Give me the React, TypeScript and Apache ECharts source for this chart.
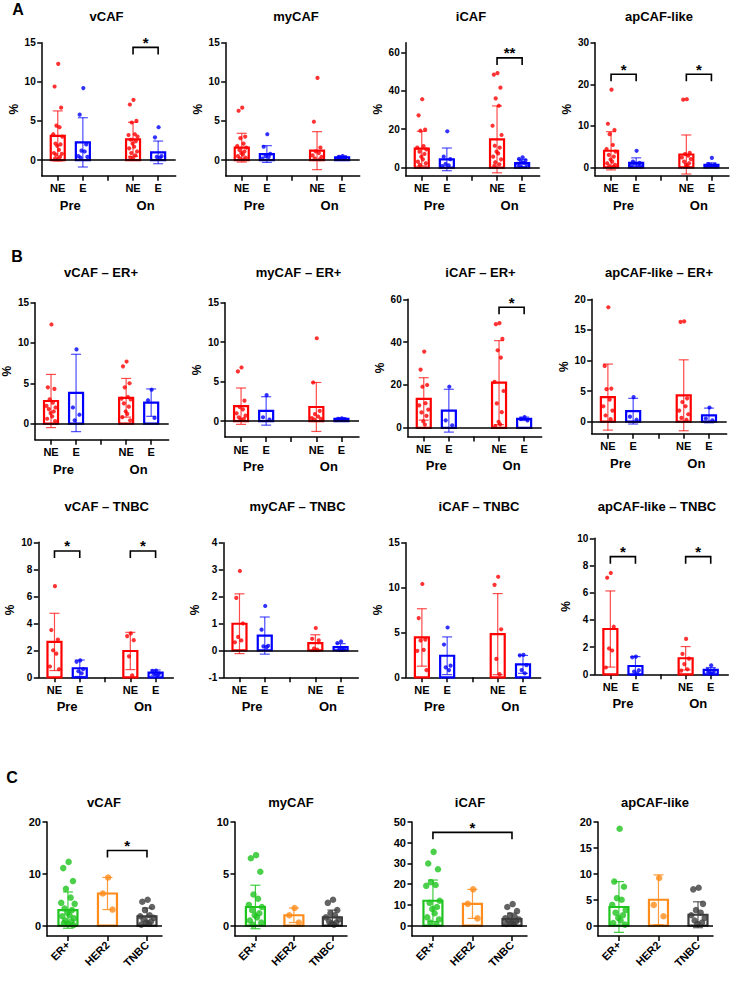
import React, { useEffect, useRef } from "react";
import * as echarts from "echarts";

const FONT = "'Liberation Sans', Arial, Helvetica, sans-serif";
const RED = "#ff0000";
const BLUE = "#0000ff";
const GREEN = "#1fc41f";
const ORANGE = "#ff8c1a";
const GRAY = "#3d3d3d";

// tick labels
const GROUP_TICK_LABELS = ["NE", "E", "", "NE", "E"];
const TIME_LABELS = ["Pre", "On"];
const SUBTYPE_LABELS = ["ER+", "HER2", "TNBC"];
const GROUP_X = [0, 1, 3, 4];
const SUBTYPE_X = [0, 1, 2];

// ---------- A (all) : groups = Pre NE, Pre E, On NE, On E ----------
const A_vCAF_mean = [3.08, 2.26, 2.65, 0.98];
const A_vCAF_sd = [3.2, 3.15, 2.18, 1.45];
const A_vCAF_pts = [
  [12.3, 9.4, 6.7, 4.4, 4.2, 3.3, 3.0, 2.1, 2.0, 1.8, 1.3, 0.9, 0.8, 0.7, 0.4, 0.2, 0.1],
  [9.2, 5.8, 2.0, 1.2, 1.1, 0.5, 0.4, 0.3],
  [7.7, 7.1, 5.0, 4.8, 3.3, 3.2, 3.0, 2.6, 2.4, 2.1, 1.7, 1.5, 1.1, 0.9, 0.6, 0.3, 0.2],
  [4.2, 2.9, 0.5, 0.4, 0.3],
];
const A_vCAF_sig = [[2, 3, 14.4, "*"]];

const A_myCAF_mean = [1.58, 0.77, 1.2, 0.34];
const A_myCAF_sd = [1.84, 1.07, 2.43, 0.16];
const A_myCAF_pts = [
  [6.7, 6.3, 3.0, 2.8, 2.1, 1.8, 1.6, 1.3, 1.1, 0.9, 0.7, 0.5, 0.3, 0.2, 0.1],
  [3.3, 1.7, 0.8, 0.5, 0.4, 0.2],
  [10.5, 4.9, 1.6, 1.1, 0.9, 0.6, 0.4, 0.2, 0.1],
  [0.5, 0.4, 0.35, 0.3, 0.25, 0.2],
];
const A_myCAF_sig: any[] = [];

const A_iCAF_mean = [9.9, 4.3, 14.7, 2.4];
const A_iCAF_sd = [9.0, 5.9, 17.4, 1.9];
const A_iCAF_pts = [
  [35.6, 27.2, 19.8, 19.2, 11.2, 10.4, 9.5, 8.3, 7.1, 5.7, 4.3, 3.1, 2.3, 1.4],
  [18.9, 5.7, 4.4, 1.9, 1.2, 0.8],
  [49.2, 48.4, 41.6, 36.0, 32.2, 21.8, 17.0, 11.4, 10.4, 8.3, 7.4, 5.7, 4.3, 2.8, 1.7, 1.0],
  [5.4, 4.5, 3.8, 3.0, 2.5, 2.0, 1.6, 1.2],
];
const A_iCAF_sig = [[2, 3, 57.1, "**"]];

const A_apCAF_mean = [4.0, 1.1, 3.1, 0.64];
const A_apCAF_sd = [4.6, 1.2, 4.7, 0.46];
const A_apCAF_pts = [
  [18.7, 10.5, 9.0, 8.0, 5.4, 4.4, 3.8, 3.0, 2.6, 1.9, 1.4, 1.0, 0.6, 0.3, 0.2],
  [4.0, 1.4, 1.1, 0.9, 0.7, 0.5, 0.3],
  [16.4, 16.3, 3.5, 3.2, 2.8, 2.4, 2.0, 1.4, 1.0, 0.6, 0.3],
  [2.3, 0.8, 0.6, 0.5, 0.4, 0.3, 0.2],
];
const A_apCAF_sig = [[0, 1, 22.4, "*"], [2, 3, 22.4, "*"]];

// ---------- B : ER+ ----------
const BER_vCAF_mean = [2.8, 3.8, 3.2, 2.6];
const BER_vCAF_sd = [3.3, 4.8, 2.4, 1.7];
const BER_vCAF_pts = [
  [12.3, 4.5, 4.3, 3.0, 2.6, 2.2, 2.0, 1.8, 1.5, 1.3, 0.9, 0.6, 0.3],
  [9.2, 2.0, 1.1, 0.4],
  [7.7, 7.1, 5.0, 4.5, 3.3, 3.1, 3.0, 2.5, 2.1, 1.5, 1.2, 0.8, 0.4],
  [4.2, 2.9, 0.7],
];
const BER_vCAF_sig: any[] = [];

const BER_myCAF_mean = [1.9, 1.3, 1.8, 0.3];
const BER_myCAF_sd = [2.3, 1.8, 3.1, 0.1];
const BER_myCAF_pts = [
  [6.8, 6.3, 2.6, 1.8, 1.5, 1.0, 0.7, 0.5, 0.3, 0.2],
  [3.3, 0.5, 0.2],
  [10.5, 4.9, 1.3, 0.9, 0.6, 0.4, 0.3, 0.2],
  [0.35, 0.3, 0.25],
];
const BER_myCAF_sig: any[] = [];

const BER_iCAF_mean = [13.5, 8.0, 21.1, 4.2];
const BER_iCAF_sd = [9.9, 10.0, 19.6, 0.8];
const BER_iCAF_pts = [
  [35.6, 27.2, 20.0, 19.2, 11.5, 10.5, 8.5, 7.2, 5.6, 3.0, 1.5],
  [19.2, 3.5, 1.2],
  [48.9, 48.4, 41.5, 36.2, 32.8, 21.5, 17.2, 11.4, 7.3, 2.8, 1.6, 0.8],
  [5.0, 4.2, 3.5],
];
const BER_iCAF_sig = [[2, 3, 56.3, "*"]];

const BER_apCAF_mean = [4.0, 1.7, 4.3, 1.0];
const BER_apCAF_sd = [5.4, 2.1, 5.8, 1.2];
const BER_apCAF_pts = [
  [18.7, 9.1, 5.4, 5.3, 3.6, 2.5, 1.8, 1.0, 0.4],
  [4.0, 0.8, 0.3],
  [16.4, 16.3, 3.8, 3.2, 2.5, 1.8, 1.2, 0.6, 0.3],
  [2.3, 0.5, 0.2],
];
const BER_apCAF_sig: any[] = [];

// ---------- B : TNBC ----------
const BTN_vCAF_mean = [2.62, 0.67, 1.95, 0.35];
const BTN_vCAF_sd = [2.12, 0.61, 1.38, 0.19];
const BTN_vCAF_pts = [
  [6.75, 3.5, 2.8, 2.0, 1.75, 0.8, 0.6],
  [1.25, 1.15, 0.6, 0.45, 0.3],
  [3.25, 3.05, 2.75, 1.55, 0.15],
  [0.5, 0.48, 0.3, 0.25, 0.15],
];
const BTN_vCAF_sig = [[0, 1, 9.36, "*"], [2, 3, 9.36, "*"]];

const BTN_myCAF_mean = [0.99, 0.55, 0.27, 0.12];
const BTN_myCAF_sd = [1.11, 0.69, 0.31, 0.13];
const BTN_myCAF_pts = [
  [2.95, 1.95, 1.0, 0.5, 0.37, 0.3],
  [1.65, 0.77, 0.17, 0.15, 0.12],
  [0.83, 0.43, 0.37, 0.07, 0.03],
  [0.33, 0.27, 0.06, 0.03, 0.02],
];
const BTN_myCAF_sig: any[] = [];

const BTN_iCAF_mean = [4.44, 2.4, 4.81, 1.44];
const BTN_iCAF_sd = [3.2, 2.1, 4.52, 1.0];
const BTN_iCAF_pts = [
  [10.4, 6.6, 4.2, 4.1, 3.05, 2.95, 0.8],
  [5.55, 3.65, 1.3, 1.1, 0.8],
  [11.2, 10.3, 5.35, 2.05, 0.35],
  [2.5, 2.45, 1.35, 0.8, 0.45],
];
const BTN_iCAF_sig: any[] = [];

const BTN_apCAF_mean = [3.33, 0.61, 1.18, 0.32];
const BTN_apCAF_sd = [2.8, 0.69, 0.86, 0.18];
const BTN_apCAF_pts = [
  [7.45, 7.1, 3.5, 1.9, 1.75, 0.5],
  [1.3, 1.25, 0.3, 0.2, 0.07],
  [2.6, 1.5, 1.15, 0.75, 0.37, 0.27],
  [0.66, 0.33, 0.3, 0.15, 0.07],
];
const BTN_apCAF_sig = [[0, 1, 8.65, "*"], [2, 3, 8.65, "*"]];

// ---------- C : ER+, HER2, TNBC ----------
const C_vCAF_mean = [3.0, 6.2, 1.8];
const C_vCAF_sd = [3.5, 3.1, 1.6];
const C_vCAF_pts = [
  [12.3, 11.1, 8.6, 7.1, 5.4, 4.4, 4.2, 3.3, 3.0, 2.5, 2.0, 1.8, 1.4, 1.0, 0.8, 0.5, 0.3, 0.1],
  [9.3, 6.2, 3.1],
  [5.0, 4.6, 3.6, 3.0, 2.0, 1.8, 1.5, 1.2, 0.8, 0.6, 0.4, 0.2],
];
const C_vCAF_sig = [[1, 2, 14.5, "*"]];

const C_myCAF_mean = [1.8, 1.0, 0.8];
const C_myCAF_sd = [2.1, 0.7, 0.7];
const C_myCAF_pts = [
  [6.8, 6.5, 5.2, 3.0, 2.6, 2.0, 1.8, 1.5, 1.2, 1.0, 0.8, 0.5, 0.3, 0.1],
  [1.7, 1.0, 0.3],
  [2.5, 2.2, 1.5, 1.2, 1.0, 0.8, 0.6, 0.4, 0.3, 0.2, 0.1],
];
const C_myCAF_sig: any[] = [];

const C_iCAF_mean = [12.0, 10.5, 3.2];
const C_iCAF_sd = [10.0, 7.0, 2.8];
const C_iCAF_pts = [
  [35.6, 30.0, 27.2, 21.0, 19.6, 19.2, 12.0, 11.0, 9.0, 8.0, 6.0, 4.0, 3.0, 1.5, 0.8],
  [17.5, 10.5, 3.5],
  [10.4, 9.0, 7.0, 5.0, 4.2, 3.5, 3.0, 2.5, 2.0, 1.5, 1.0, 0.8],
];
const C_iCAF_sig = [[0, 2, 45, "*"]];

const C_apCAF_mean = [3.6, 5.0, 2.1];
const C_apCAF_sd = [4.9, 4.8, 2.5];
const C_apCAF_pts = [
  [18.7, 8.5, 7.5, 5.3, 5.0, 4.0, 3.0, 2.5, 2.0, 1.5, 1.0, 0.5, 0.2],
  [9.2, 4.0, 1.8],
  [7.3, 7.0, 4.2, 3.0, 2.5, 2.0, 1.5, 1.0, 0.6, 0.3],
];
const C_apCAF_sig: any[] = [];

// ---------- layout (positions / sizes only) ----------
const JITTER = [0.02, -0.14, 0.15, -0.06, 0.08, -0.2, 0.2, -0.1, 0.12, -0.02, 0.05, -0.17, 0.18, -0.08, 0.1, -0.12, 0.0, 0.16, -0.04, 0.07, -0.18, 0.13, -0.09, 0.04];

type Layout = {
  left: number; top: number; width: number; height: number;
  xMin: number; xMax: number; yMin: number; yMax: number; yTicks: number[];
  zero: boolean; titleX: number; titleY: number; yName: boolean;
};

const LAY = (left: number, top: number, bottom: number, yMin: number, yMax: number, yTicks: number[], titleX: number, titleY: number, zero: boolean, width = 134, xMin = -0.64, xMax = 4.7, yName = true): Layout => ({
  left, top, width, height: bottom - top, xMin, xMax, yMin, yMax, yTicks, zero, titleX, titleY, yName,
});

const PANELS: any[] = [
  { kind: "grp", title: "vCAF", mean: A_vCAF_mean, sd: A_vCAF_sd, pts: A_vCAF_pts, sig: A_vCAF_sig, L: LAY(41.7, 42.7, 175.7, -2, 15, [0, 5, 10, 15], 106.5, 16, true) },
  { kind: "grp", title: "myCAF", mean: A_myCAF_mean, sd: A_myCAF_sd, pts: A_myCAF_pts, sig: A_myCAF_sig, L: LAY(225.7, 42.7, 175.7, -2, 15, [0, 5, 10, 15], 296, 16, true) },
  { kind: "grp", title: "iCAF", mean: A_iCAF_mean, sd: A_iCAF_sd, pts: A_iCAF_pts, sig: A_iCAF_sig, L: LAY(405.7, 42.7, 175.7, -4.2, 65, [0, 20, 40, 60], 471, 16, true) },
  { kind: "grp", title: "apCAF-like", mean: A_apCAF_mean, sd: A_apCAF_sd, pts: A_apCAF_pts, sig: A_apCAF_sig, L: LAY(595, 42.7, 175.7, -2, 30, [0, 10, 20, 30], 659, 16, true) },

  { kind: "grp", title: "vCAF \u2013 ER+", mean: BER_vCAF_mean, sd: BER_vCAF_sd, pts: BER_vCAF_pts, sig: BER_vCAF_sig, L: LAY(31.7, 302.7, 439.7, -2, 15, [0, 5, 10, 15], 101, 272, true, 137) },
  { kind: "grp", title: "myCAF \u2013 ER+", mean: BER_myCAF_mean, sd: BER_myCAF_sd, pts: BER_myCAF_pts, sig: BER_myCAF_sig, L: LAY(225, 302.7, 437, -2, 15, [0, 5, 10, 15], 298.6, 272, true, 134) },
  { kind: "grp", title: "iCAF \u2013 ER+", mean: BER_iCAF_mean, sd: BER_iCAF_sd, pts: BER_iCAF_pts, sig: BER_iCAF_sig, L: LAY(407.7, 299.3, 436.4, -4, 60, [0, 20, 40, 60], 480.5, 272, true, 134) },
  { kind: "grp", title: "apCAF-like \u2013 ER+", mean: BER_apCAF_mean, sd: BER_apCAF_sd, pts: BER_apCAF_pts, sig: BER_apCAF_sig, L: LAY(591.7, 299.3, 433.8, -2, 20, [0, 5, 10, 15, 20], 659, 272, true, 135) },

  { kind: "grp", title: "vCAF \u2013 TNBC", mean: BTN_vCAF_mean, sd: BTN_vCAF_sd, pts: BTN_vCAF_pts, sig: BTN_vCAF_sig, L: LAY(38.3, 542.3, 677.3, 0, 10, [0, 2, 4, 6, 8, 10], 106.7, 506, false, 135) },
  { kind: "grp", title: "myCAF \u2013 TNBC", mean: BTN_myCAF_mean, sd: BTN_myCAF_sd, pts: BTN_myCAF_pts, sig: BTN_myCAF_sig, L: LAY(223.3, 542.7, 677.3, -1, 4, [-1, 0, 1, 2, 3, 4], 297.5, 506, true, 135) },
  { kind: "grp", title: "iCAF \u2013 TNBC", mean: BTN_iCAF_mean, sd: BTN_iCAF_sd, pts: BTN_iCAF_pts, sig: BTN_iCAF_sig, L: LAY(405.7, 542.7, 677.3, 0, 15, [0, 5, 10, 15], 479, 506, false, 135) },
  { kind: "grp", title: "apCAF-like \u2013 TNBC", mean: BTN_apCAF_mean, sd: BTN_apCAF_sd, pts: BTN_apCAF_pts, sig: BTN_apCAF_sig, L: LAY(594.3, 538.3, 674.3, 0, 10, [0, 2, 4, 6, 8, 10], 657, 506, false, 134) },

  { kind: "sub", title: "vCAF", mean: C_vCAF_mean, sd: C_vCAF_sd, pts: C_vCAF_pts, sig: C_vCAF_sig, L: LAY(47, 822, 936, -2, 20, [0, 10, 20], 104, 802, true, 115, -0.53, 2.38, false) },
  { kind: "sub", title: "myCAF", mean: C_myCAF_mean, sd: C_myCAF_sd, pts: C_myCAF_pts, sig: C_myCAF_sig, L: LAY(235, 822, 936, -1, 10, [0, 5, 10], 291, 802, true, 112, -0.53, 2.38, false) },
  { kind: "sub", title: "iCAF", mean: C_iCAF_mean, sd: C_iCAF_sd, pts: C_iCAF_pts, sig: C_iCAF_sig, L: LAY(412, 822, 936, -5, 50, [0, 10, 20, 30, 40, 50], 470, 802, true, 115, -0.53, 2.38, false) },
  { kind: "sub", title: "apCAF-like", mean: C_apCAF_mean, sd: C_apCAF_sd, pts: C_apCAF_pts, sig: C_apCAF_sig, L: LAY(598, 822, 936, -2, 20, [0, 5, 10, 15, 20], 655, 802, true, 115, -0.53, 2.38, false) },
];

const LETTERS = [
  { t: "A", x: 18, y: 9 },
  { t: "B", x: 17, y: 256 },
  { t: "C", x: 12, y: 777 },
];

function barRender(colors: string[], barW: number, errOpacity: number) {
  return (params: any, api: any) => {
    const x = api.value(0), m = api.value(1), sd = api.value(2), ci = api.value(3);
    const c = colors[ci];
    const p0 = api.coord([x, 0]);
    const p1 = api.coord([x, m]);
    const ph = api.coord([x, m + sd]);
    const pl = api.coord([x, m - sd]);
    const cx = p0[0];
    const cap = 5;
    const es = { stroke: c, lineWidth: 1.2, opacity: errOpacity };
    return {
      type: "group",
      children: [
        { type: "rect", shape: { x: cx - barW / 2, y: p1[1], width: barW, height: p0[1] - p1[1] }, style: { fill: "rgba(255,255,255,0)", stroke: c, lineWidth: 2.2 } },
        { type: "line", shape: { x1: cx, y1: ph[1], x2: cx, y2: pl[1] }, style: es },
        { type: "line", shape: { x1: cx - cap, y1: ph[1], x2: cx + cap, y2: ph[1] }, style: es },
        { type: "line", shape: { x1: cx - cap, y1: pl[1], x2: cx + cap, y2: pl[1] }, style: es },
      ],
    };
  };
}

function sigRender(labels: string[]) {
  return (params: any, api: any) => {
    const a = api.coord([api.value(0), api.value(2)]);
    const b = api.coord([api.value(1), api.value(2)]);
    return {
      type: "group",
      children: [
        { type: "polyline", shape: { points: [[a[0], a[1] + 7], [a[0], a[1]], [b[0], b[1]], [b[0], b[1] + 7]] }, style: { stroke: "#000", lineWidth: 1.6, fill: null } },
        { type: "text", x: (a[0] + b[0]) / 2, y: a[1] - 5, style: { text: labels[params.dataIndex], textAlign: "center", textVerticalAlign: "middle", font: `bold 15px ${FONT}`, fill: "#000" } },
      ],
    };
  };
}

function buildOption() {
  const grid: any[] = [], xAxis: any[] = [], yAxis: any[] = [], series: any[] = [], graphic: any[] = [];
  const axisLine = { show: true, onZero: false, lineStyle: { color: "#000", width: 1.5 } };
  PANELS.forEach((p, i) => {
    const L: Layout = p.L;
    const isSub = p.kind === "sub";
    const xs = isSub ? SUBTYPE_X : GROUP_X;
    const colors = isSub ? [GREEN, ORANGE, GRAY] : [RED, BLUE, RED, BLUE];
    grid.push({ left: L.left, top: L.top, width: L.width, height: L.height, containLabel: false });
    const xi = xAxis.length;
    xAxis.push({
      type: "value", gridIndex: i, min: L.xMin, max: L.xMax, position: "bottom",
      axisLine,
      axisTick: { show: true, customValues: isSub ? SUBTYPE_X : [0, 1, 2, 3, 4], length: 5, lineStyle: { color: "#000", width: 1.5 } },
      axisLabel: {
        customValues: isSub ? SUBTYPE_X : [0, 1, 3, 4],
        formatter: (v: number) => (isSub ? SUBTYPE_LABELS[Math.round(v)] : GROUP_TICK_LABELS[Math.round(v)]),
        fontFamily: FONT, fontWeight: "bold", fontSize: 11, color: "#000", margin: 7, rotate: isSub ? 45 : 0,
      },
      splitLine: { show: false },
    });
    if (!isSub) {
      xAxis.push({
        type: "value", gridIndex: i, min: L.xMin, max: L.xMax, position: "bottom", offset: 19,
        axisLine: { show: false }, axisTick: { show: false }, splitLine: { show: false },
        axisLabel: { customValues: [0.5, 3.5], formatter: (v: number) => TIME_LABELS[v < 2 ? 0 : 1], fontFamily: FONT, fontWeight: "bold", fontSize: 13, color: "#000", margin: 4 },
      });
    }
    const yi = yAxis.length;
    yAxis.push({
      type: "value", gridIndex: i, min: L.yMin, max: L.yMax,
      axisLine,
      axisTick: { show: true, customValues: L.yTicks, length: 4.5, lineStyle: { color: "#000", width: 1.5 } },
      axisLabel: { customValues: L.yTicks, fontFamily: FONT, fontWeight: "bold", fontSize: isSub ? 11 : 10, color: "#000", margin: 6 },
      splitLine: { show: false },
      name: L.yName ? "%" : "", nameLocation: "middle", nameGap: 22, nameRotate: 90,
      nameTextStyle: { fontFamily: FONT, fontWeight: "bold", fontSize: 12, color: "#000" },
    });
    const barW = isSub ? 19 : 14;
    series.push({
      type: "custom", xAxisIndex: xi, yAxisIndex: yi, silent: true, clip: false, z: 2,
      renderItem: barRender(colors, barW, isSub ? 0.85 : 0.7),
      data: p.mean.map((m: number, k: number) => [xs[k], m, p.sd[k], k]),
    });
    const jit = isSub ? 0.85 : 0.9;
    series.push({
      type: "scatter", xAxisIndex: xi, yAxisIndex: yi, silent: true, z: 3, symbolSize: isSub ? 6.5 : 4.2,
      data: p.pts.flatMap((arr: number[], k: number) => arr.map((v, j) => ({ value: [xs[k] + JITTER[j % JITTER.length] * jit, v], itemStyle: { color: colors[k] } }))),
      markLine: L.zero ? { silent: true, symbol: "none", label: { show: false }, lineStyle: { color: "#000", width: 1.6, type: "solid" }, data: [{ yAxis: 0 }] } : undefined,
    });
    if (p.sig.length) {
      series.push({
        type: "custom", xAxisIndex: xi, yAxisIndex: yi, silent: true, clip: false, z: 4,
        renderItem: sigRender(p.sig.map((s: any[]) => s[3])),
        data: p.sig.map((s: any[]) => [xs[s[0]], xs[s[1]], s[2]]),
      });
    }
    graphic.push({ type: "text", x: L.titleX, y: L.titleY, style: { text: p.title, textAlign: "center", textVerticalAlign: "middle", font: `bold 13px ${FONT}`, fill: "#000" } });
  });
  LETTERS.forEach((l) => graphic.push({ type: "text", x: l.x, y: l.y, style: { text: l.t, textAlign: "center", textVerticalAlign: "middle", font: `bold 16px ${FONT}`, fill: "#000" } }));
  return { animation: false, backgroundColor: "#fff", grid, xAxis, yAxis, series, graphic };
}

export default function App() {
  const ref = useRef<HTMLDivElement>(null);
  useEffect(() => {
    const chart = echarts.init(ref.current as HTMLDivElement, null, { renderer: "svg", width: 731, height: 1008 });
    chart.setOption(buildOption() as any);
    return () => chart.dispose();
  }, []);
  return <div ref={ref} style={{ position: "absolute", left: 0, top: 0, width: 731, height: 1008, background: "#fff" }} />;
}
